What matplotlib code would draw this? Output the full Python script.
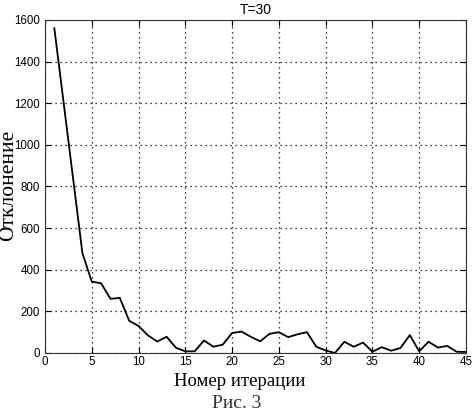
import numpy as np
import matplotlib
matplotlib.use("Agg")
import matplotlib.pyplot as plt

# номер итерации и отклонение
iters = np.arange(1, 46)
dev = [1560, 1200, 840, 480, 343, 335, 260, 265, 155, 130,
       85, 55, 78, 25, 8, 8, 60, 30, 40, 96,
       103, 78, 56, 92, 100, 76, 90, 100, 30, 12,
       0, 54, 30, 50, 6, 28, 11, 24, 86, 8,
       54, 26, 34, 6, 5]

xticks = [0, 5, 10, 15, 20, 25, 30, 35, 40, 45]
yticks = [0, 200, 400, 600, 800, 1000, 1200, 1400, 1600]

fig = plt.figure(figsize=(4.73, 4.17), dpi=100)
ax = fig.add_axes([0.0951, 0.1535, 0.89, 0.7986])

ax.plot(iters, dev, color="black", lw=1.3)

ax.set_xlim(0, 45)
ax.set_ylim(0, 1600)
ax.set_xticks(xticks)
ax.set_yticks(yticks)
ax.grid(True, color="black", linestyle=(0, (1, 3)), lw=0.9)
ax.tick_params(direction="in", top=True, right=True, length=4,
               labelsize=8.3)
ax.tick_params(axis="y", pad=3.5)
ax.tick_params(axis="x", pad=2.5)
for lab in ax.get_xticklabels() + ax.get_yticklabels():
    lab.set_family("Liberation Sans")
for s in ax.spines.values():
    s.set_color("#333333")

ax.set_title("T=30", family="Liberation Sans", fontsize=10, pad=4)

# подписи осей и рисунка
fig.text(240 / 473, 1 - 382 / 417, "Номер итерации", family="Liberation Serif",
         fontsize=13.5, ha="center", va="center")
fig.text(9 / 473, 1 - 185 / 417, "Отклонение", family="Liberation Serif",
         fontsize=15.5, ha="center", va="center", rotation=90)
fig.text(237 / 473, 1 - 404 / 417, "Рис. 3", family="Liberation Serif",
         fontsize=14, ha="center", va="center", color="#333333")

fig.savefig("out.png", dpi=100)
